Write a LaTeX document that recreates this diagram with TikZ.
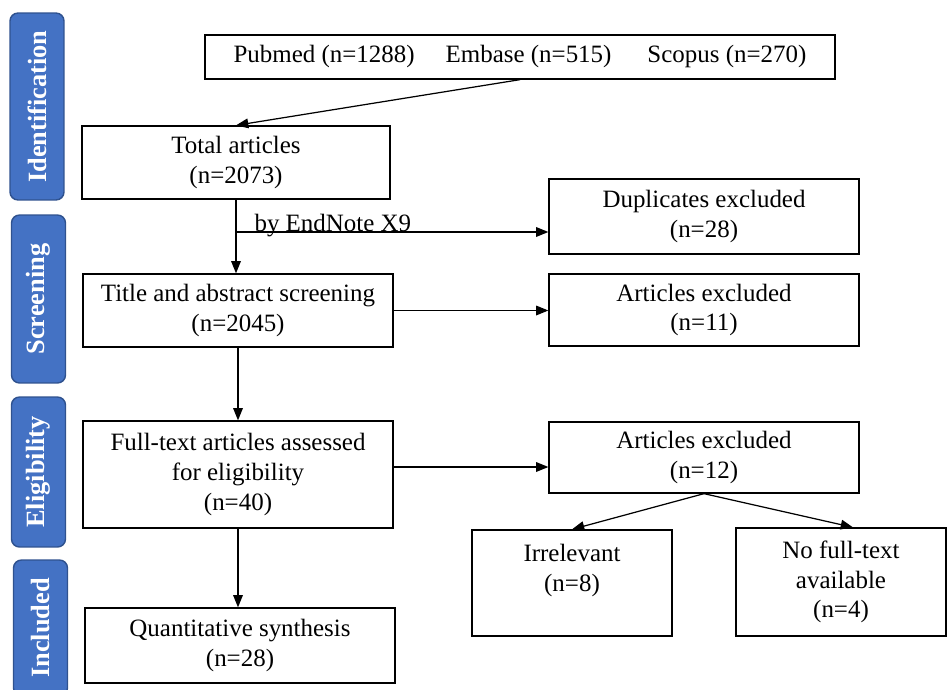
\documentclass[tikz,border=0pt]{standalone}
\usepackage{fontspec}
\setmainfont{Liberation Serif}
\usetikzlibrary{arrows.meta}

\definecolor{phasefill}{RGB}{68,114,196}
\definecolor{phaseline}{RGB}{47,82,143}

\tikzset{
  box/.style={draw, line width=0.75pt, align=center, inner sep=2pt,
    font=\fontsize{14.2}{16.9}\selectfont},
  phase/.style={draw=phaseline, fill=phasefill, line width=0.8pt,
    rounded corners=0.16cm, rotate=90, minimum height=1.08cm, text=white,
    font=\fontsize{15}{18}\selectfont\bfseries},
  arr/.style={-{Triangle[length=7pt,width=5.5pt]}, line width=0.7pt},
  lbl/.style={font=\fontsize{14.2}{16.9}\selectfont, inner sep=0pt},
}

\begin{document}
\begin{tikzpicture}[x=0.02cm, y=-0.02cm]
  \useasboundingbox (0,0) rectangle (949,689);

  % phase bars on the left
  \node[phase, minimum width=3.74cm] (idbar) at (37,106.5) {Identification};
  \node[phase, minimum width=3.36cm] (scbar) at (38.5,299) {Screening};
  \node[phase, minimum width=3.0cm] (elbar) at (38.5,472) {Eligibility};
  \node[phase, minimum width=2.72cm] (inbar) at (40.5,628) {Included};

  % Identification
  \node[box, minimum width=12.6cm, minimum height=0.88cm] (src) at (520,57)
    {Pubmed (n=1288)\hspace{0.62cm}Embase (n=515)\hspace{0.72cm}Scopus (n=270)};
  \node[box, minimum width=6.16cm, minimum height=1.46cm] (total) at (236,162.5)
    {Total articles\\(n=2073)};
  \draw[arr] (src.south) -- (total.north);

  % Screening
  \node[box, minimum width=6.2cm, minimum height=1.5cm] (dup) at (704,216.5)
    {Duplicates excluded\\(n=28)};
  \node[box, minimum width=6.2cm, minimum height=1.46cm] (screen) at (238,310.5)
    {Title and abstract screening\\(n=2045)};
  \node[box, minimum width=6.2cm, minimum height=1.44cm] (ex11) at (704,310)
    {Articles excluded\\(n=11)};
  \coordinate (split) at (236,232);
  \draw[arr] (total.south) -- (total.south |- screen.north);
  \draw[arr] (split) -- node[lbl, pos=0.31, anchor=base] (endnote) {by EndNote X9}
    (split -| dup.west);
  \draw[arr] (screen.east) -- (screen.east -| ex11.west);

  % Eligibility
  \node[box, minimum width=6.2cm, minimum height=2.14cm] (full) at (238,474.5)
    {Full-text articles assessed\\for eligibility\\(n=40)};
  \node[box, minimum width=6.2cm, minimum height=1.42cm] (ex12) at (704,457.5)
    {Articles excluded\\(n=12)};
  \node[box, minimum width=4.0cm, minimum height=2.12cm] (irr) at (572,583)
    {Irrelevant\\(n=8)\\\mbox{}};
  \node[box, minimum width=4.2cm, minimum height=2.16cm] (nofull) at (841,582)
    {No full-text\\available\\(n=4)};
  \draw[arr] (screen.south) -- (screen.south |- full.north);
  \draw[arr] ([yshift=0.15cm]full.east) -- ([yshift=0.15cm]full.east -| ex12.west);
  \draw[arr] (ex12.south) -- (irr.north);
  \draw[arr] (ex12.south) -- ([xshift=0.24cm]nofull.north);

  % Included
  \node[box, minimum width=6.2cm, minimum height=1.5cm] (quant) at (240,645.5)
    {Quantitative synthesis\\(n=28)};
  \draw[arr] (full.south) -- (full.south |- quant.north);

\end{tikzpicture}
\end{document}
